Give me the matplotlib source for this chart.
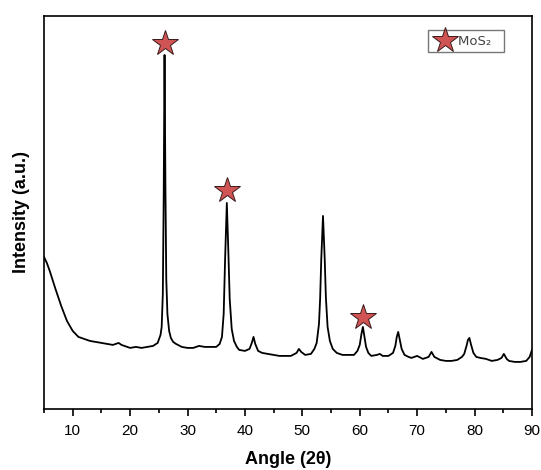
import matplotlib
matplotlib.use("Agg")
import matplotlib.pyplot as plt

# XRD pattern (angle 2theta, intensity in arbitrary units)
angle = [5.0, 5.5, 6.0, 7.0, 8.0, 9.0, 10.0, 11.0, 12.0, 13.0, 14.0, 15.0, 16.0, 17.0,
         18.0, 18.5, 19.0, 20.0, 21.0, 22.0, 23.0, 24.0, 24.8, 25.3, 25.5, 25.7, 25.85,
         26.0, 26.15, 26.3, 26.5, 26.8, 27.1, 27.5, 28.0, 29.0, 30.0, 31.0, 32.0, 33.0,
         34.0, 35.0, 35.6, 36.0, 36.3, 36.55, 36.85, 37.1, 37.35, 37.7, 38.1, 38.6, 39.0,
         40.0, 40.8, 41.2, 41.5, 41.8, 42.3, 43.0, 44.0, 45.0, 46.0, 47.0, 48.0, 49.0,
         49.4, 49.8, 50.5, 51.5, 52.1, 52.5, 52.9, 53.1, 53.3, 53.6, 53.9, 54.1, 54.4,
         54.8, 55.3, 56.0, 57.0, 58.0, 59.0, 59.6, 60.0, 60.3, 60.55, 60.8, 61.1, 61.5,
         62.0, 63.0, 63.5, 64.0, 65.0, 65.8, 66.2, 66.45, 66.7, 66.95, 67.3, 67.8, 68.5,
         69.0, 70.0, 71.0, 72.0, 72.5, 73.0, 74.0, 75.0, 76.0, 77.0, 77.8, 78.2, 78.6,
         78.85, 79.1, 79.4, 79.8, 80.3, 81.0, 82.0, 83.0, 84.0, 84.7, 85.1, 85.6, 86.0,
         87.0, 88.0, 89.0, 89.6, 90.0]
intensity = [152, 146, 138, 120, 103, 88, 78, 72, 70, 68, 67, 66, 65, 64,
             66, 64, 63, 61, 62, 61, 62, 63, 66, 74, 82, 115, 210,
             354, 225, 130, 95, 78, 71, 67, 65, 62, 61, 61, 63, 62,
             62, 62, 65, 72, 95, 150, 206, 160, 110, 80, 68, 62, 59,
             58, 60, 66, 72, 65, 58, 56, 55, 54, 53, 53, 53, 56,
             60, 57, 54, 55, 60, 66, 85, 110, 150, 193, 150, 112, 82,
             68, 60, 56, 54, 54, 54, 58, 64, 75, 82, 73, 62, 56,
             53, 54, 55, 53, 53, 56, 63, 72, 77, 70, 60, 54, 52,
             51, 53, 50, 52, 57, 52, 49, 48, 48, 49, 52, 55, 63,
             69, 71, 64, 56, 52, 51, 50, 48, 49, 51, 55, 50, 48,
             47, 47, 48, 52, 59]

# MoS2 reflections marked with stars
mos2_angle = [26.0, 36.8, 60.5]
mos2_mark = [366, 219, 92]

fig = plt.figure(figsize=(5.41, 4.70), dpi=100)
ax = fig.add_axes([0.0813, 0.130, 0.902, 0.836])

ax.plot(angle, intensity, color="black", linewidth=1.3)
ax.plot(mos2_angle, mos2_mark, linestyle="none", marker="*", markersize=19,
        markerfacecolor="#d05454", markeredgecolor="#3a1a1a", markeredgewidth=0.7,
        label="MoS₂")

ax.set_xlim(5, 90)
ax.set_ylim(0, 393)
ax.set_xticks(range(10, 91, 10))
ax.set_xticks(range(5, 91, 5), minor=True)
ax.set_yticks([])
ax.tick_params(axis="x", which="major", direction="out", length=5, width=1.2,
               labelsize=11, pad=6)
ax.tick_params(axis="x", which="minor", direction="out", length=3, width=1.2)
for s in ax.spines.values():
    s.set_linewidth(1.2)

ax.set_xlabel("Angle (2θ)", fontsize=13, fontweight="bold", family="Liberation Sans",
              labelpad=9)
ax.set_ylabel("Intensity (a.u.)", fontsize=13, fontweight="bold", family="Liberation Sans",
              labelpad=10)
for lab in ax.get_xticklabels():
    lab.set_family("Liberation Sans")

leg = ax.legend(loc="upper right", bbox_to_anchor=(0.943, 0.964), frameon=True,
                fancybox=False, edgecolor="#555555", fontsize=9.5, markerscale=1.0,
                handletextpad=0.1, borderpad=0.35, handlelength=1.8,
                borderaxespad=0)
leg.get_frame().set_linewidth(1.0)
for t in leg.get_texts():
    t.set_color("#444444")
    t.set_text("MoS₂  ")

fig.savefig("out.png", dpi=100)
